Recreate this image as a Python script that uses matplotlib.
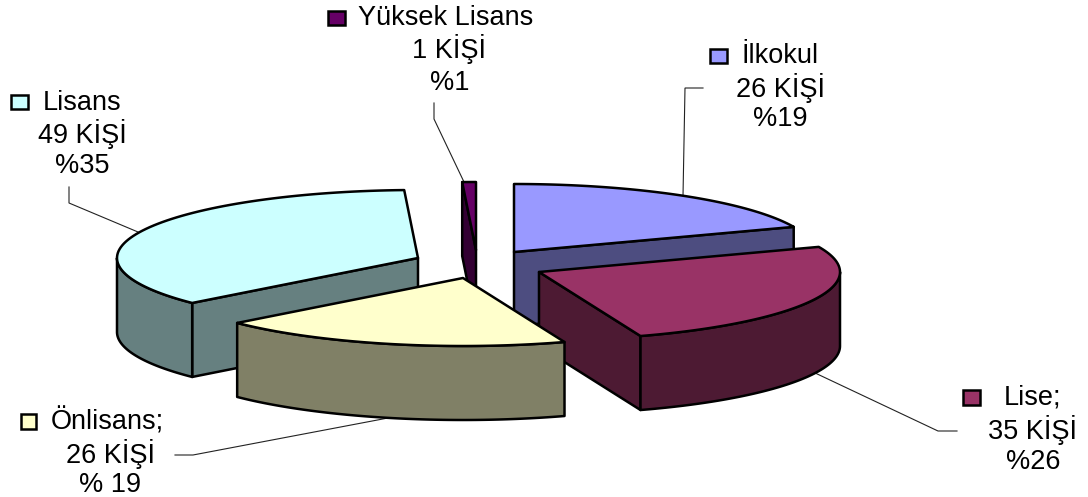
import numpy as np
import matplotlib
matplotlib.use("Agg")
import matplotlib.pyplot as plt
from matplotlib.patches import Polygon, Rectangle

# ---- data ----
categories = ["İlkokul", "Lise", "Önlisans", "Lisans", "Yüksek Lisans"]
counts = [26, 35, 26, 49, 1]
name_labels = ["İlkokul", "Lise;", "Önlisans;", "Lisans", "Yüksek Lisans"]
count_labels = ["26 KİŞİ", "35 KİŞİ", "26 KİŞİ", "49 KİŞİ", "1 KİŞİ"]
pct_labels = ["%19", "%26", "% 19", "%35", "%1"]

# ---- styling / layout (pixel space) ----
top_colors = ["#9999FF", "#993366", "#FFFFCC", "#CCFFFF", "#660066"]
wall_colors = ["#4D4D80", "#4D1A33", "#808066", "#668080", "#330033"]
apexes = [(514, 252), (539, 272), (463, 278), (418, 258), (476, 250)]
RX, RY, DEPTH = 301, 68, 74
draw_order = [0, 4, 3, 1, 2]
key_boxes = [(710, 49), (963, 390), (21, 414), (11, 95), (328, 11)]
key_sizes = [(17, 14), (17, 15), (15, 15), (17, 14), (17, 14)]
name_pos = [(780, 56), (1033, 398), (107, 422), (82, 103), (446, 18)]
count_pos = [(780, 88), (1033, 430), (111, 454), (82, 134), (449, 49)]
pct_pos = [(780, 119), (1033, 462), (110, 485), (82, 166), (450, 83)]
leaders = [
    [(703, 88), (685, 88), (683, 196)],
    [(813, 372), (938, 431), (957, 431)],
    [(175, 455), (193, 455), (388, 418)],
    [(69, 187), (69, 203), (138, 232)],
    [(434, 103), (434, 119), (464, 182)],
]

fig = plt.figure(figsize=(10.88, 4.97), dpi=100)
ax = fig.add_axes([0, 0, 1, 1])
ax.set_xlim(0, 1088)
ax.set_ylim(497, 0)
ax.axis("off")

total = sum(counts)
edges = np.concatenate([[0], np.cumsum(counts)]) / total * 2 * np.pi


def pt(apex, a):
    return apex[0] + RX * np.sin(a), apex[1] - RY * np.cos(a)


EDGE = dict(edgecolor="black", linewidth=1.8, joinstyle="round")
for z, i in enumerate(draw_order):
    apex = apexes[i]
    a0, a1 = edges[i], edges[i + 1]
    aa = np.linspace(a0, a1, 80)
    xs = apex[0] + RX * np.sin(aa)
    ys = apex[1] - RY * np.cos(aa)
    base = 10 + z * 5
    # radial inner faces: only the ones turned towards the viewer
    faces = []
    if a0 > np.pi:
        faces.append(a0)
    if a1 < np.pi:
        faces.append(a1)
    for a in faces:
        x, y = pt(apex, a)
        ax.add_patch(Polygon([apex, (x, y), (x, y + DEPTH), (apex[0], apex[1] + DEPTH)],
                             closed=True, facecolor=wall_colors[i], zorder=base, **EDGE))
    # outer rim, only the front half of the ellipse is visible
    lo, hi = max(a0, np.pi / 2), min(a1, 1.5 * np.pi)
    if hi > lo:
        rim = np.linspace(lo, hi, 80)
        rx = apex[0] + RX * np.sin(rim)
        ry = apex[1] - RY * np.cos(rim)
        verts = list(zip(rx, ry)) + list(zip(rx[::-1], ry[::-1] + DEPTH))
        ax.add_patch(Polygon(verts, closed=True, facecolor=wall_colors[i], zorder=base + 1, **EDGE))
    # top face
    ax.add_patch(Polygon([apex] + list(zip(xs, ys)), closed=True,
                         facecolor=top_colors[i], zorder=base + 2, **EDGE))

for line in leaders:
    px, py = zip(*line)
    ax.plot(px, py, color="#222222", lw=0.8, zorder=5, solid_joinstyle="miter")

TXT = dict(family=["Liberation Sans", "DejaVu Sans"], fontsize=19.5, color="black",
           ha="center", va="center", zorder=60)
for i in range(len(categories)):
    ax.text(*name_pos[i], name_labels[i], **TXT)
    ax.text(*count_pos[i], count_labels[i], **TXT)
    ax.text(*pct_pos[i], pct_labels[i], **TXT)
    ax.add_patch(Rectangle(key_boxes[i], *key_sizes[i], facecolor=top_colors[i],
                           edgecolor="black", linewidth=1.8, zorder=60))

fig.savefig("out.png", dpi=100, facecolor="white")
